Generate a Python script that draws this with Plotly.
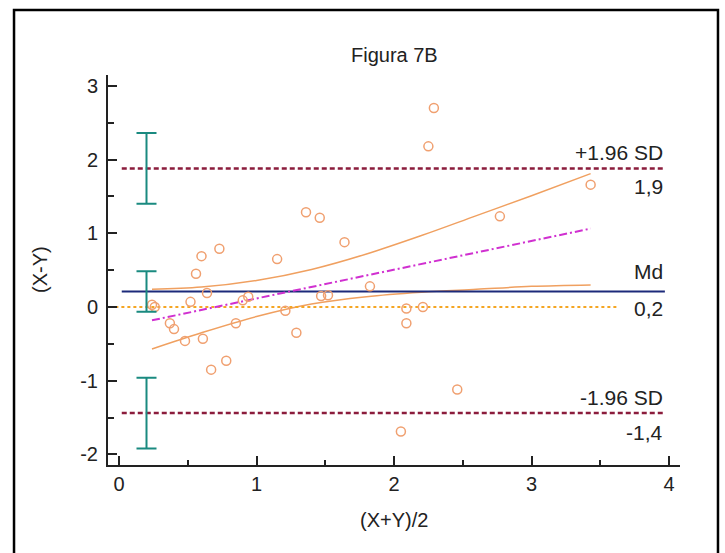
import plotly.graph_objects as go

# ---------------- data ----------------
mean_xy = [0.24, 0.26, 0.37, 0.40, 0.48, 0.52, 0.56, 0.60, 0.61, 0.64,
           0.67, 0.73, 0.78, 0.85, 0.90, 0.94, 1.15, 1.21, 1.29, 1.36,
           1.46, 1.47, 1.52, 1.64, 1.825, 2.05, 2.09, 2.09, 2.21, 2.25,
           2.29, 2.46, 2.77, 3.43]
diff_xy = [0.03, 0.00, -0.22, -0.30, -0.46, 0.07, 0.45, 0.69, -0.43, 0.19,
           -0.85, 0.79, -0.73, -0.22, 0.09, 0.14, 0.65, -0.05, -0.35, 1.285,
           1.21, 0.15, 0.16, 0.88, 0.28, -1.69, -0.02, -0.22, 0.00, 2.18,
           2.70, -1.12, 1.23, 1.66]

mean_diff = 0.21
upper_loa = 1.88
lower_loa = -1.44
mean_ci_half = 0.275
loa_ci_half = 0.48
ci_bar_x = 0.2

reg_intercept = -0.274
reg_slope = 0.39

band_x = [0.24, 0.6, 1.0, 1.4, 1.8, 2.2, 2.6, 3.0, 3.43]
band_upper = [0.24, 0.27, 0.36, 0.51, 0.72, 0.97, 1.24, 1.51, 1.81]
band_lower = [-0.57, -0.35, -0.13, 0.04, 0.14, 0.20, 0.24, 0.28, 0.30]

line_x_start = 0.02
line_x_end = 3.97
zero_x_start = -0.07
zero_x_end = 3.63

x_ticks = [0, 1, 2, 3, 4]
x_tick_labels = ["0", "1", "2", "3", "4"]
y_ticks = [-2, -1, 0, 1, 2, 3]
y_tick_labels = ["-2", "-1", "0", "1", "2", "3"]

labels = [  # (text, y value, pixel shift)
    ("+1.96 SD", upper_loa, 16),
    ("1,9", upper_loa, -18),
    ("Md", mean_diff, 20),
    ("0,2", mean_diff, -17),
    ("-1.96 SD", lower_loa, 16),
    ("-1,4", lower_loa, -19),
]

FONT = "Liberation Sans, Arial, sans-serif"
TXT = "#222222"
ORANGE = "#f0a070"

fig = go.Figure()

# confidence band of regression
for yy in (band_upper, band_lower):
    fig.add_trace(go.Scatter(x=band_x, y=yy, mode="lines",
                             line=dict(color="#f0a060", width=1.5, shape="spline"),
                             hoverinfo="skip"))

# zero line
fig.add_trace(go.Scatter(x=[zero_x_start, zero_x_end], y=[0, 0], mode="lines",
                         line=dict(color="#f5a623", width=2, dash="dot")))

# mean difference
fig.add_trace(go.Scatter(x=[line_x_start, line_x_end], y=[mean_diff, mean_diff], mode="lines",
                         line=dict(color="#1c2a7a", width=2)))

# limits of agreement
for v in (upper_loa, lower_loa):
    fig.add_trace(go.Scatter(x=[line_x_start, line_x_end], y=[v, v], mode="lines",
                             line=dict(color="#8b1c3c", width=2.5, dash="5px,3px")))

# regression line
rx = [min(mean_xy), max(mean_xy)]
ry = [reg_intercept + reg_slope * v for v in rx]
fig.add_trace(go.Scatter(x=rx, y=ry, mode="lines",
                         line=dict(color="#d030d0", width=2, dash="8px,3px,2px,3px")))

# data points
fig.add_trace(go.Scatter(x=mean_xy, y=diff_xy, mode="markers",
                         marker=dict(symbol="circle-open", size=9,
                                     line=dict(color=ORANGE, width=1.5), color=ORANGE)))

# confidence-interval bars
fig.add_trace(go.Scatter(x=[ci_bar_x] * 3, y=[upper_loa, mean_diff, lower_loa], mode="markers",
                         marker=dict(size=1, opacity=0),
                         error_y=dict(type="data", array=[loa_ci_half, mean_ci_half, loa_ci_half],
                                      color="#1a8a80", thickness=2, width=10)))

annotations = []
for text, v, shift in labels:
    annotations.append(dict(x=line_x_end, y=v, xref="x", yref="y", text=text,
                            showarrow=False, xanchor="right", yanchor="middle",
                            yshift=shift, font=dict(size=21, color=TXT, family=FONT)))
annotations.append(dict(x=0.5, y=1.0, xref="paper", yref="paper", text="Figura 7B",
                        showarrow=False, xanchor="center", yanchor="middle", yshift=20,
                        font=dict(size=20, color=TXT, family=FONT)))
annotations.append(dict(x=0.5, y=0, xref="paper", yref="paper", text="(X+Y)/2",
                        showarrow=False, xanchor="center", yanchor="middle", yshift=-55,
                        font=dict(size=20, color=TXT, family=FONT)))
annotations.append(dict(x=0, y=0.5, xref="paper", yref="paper", text="(X-Y)",
                        showarrow=False, xanchor="center", yanchor="middle", xshift=-68,
                        textangle=-90, font=dict(size=20, color=TXT, family=FONT)))

axis_common = dict(showgrid=False, zeroline=False, showline=True, linecolor="#222",
                   linewidth=2, ticks="inside", ticklen=9, tickwidth=1.5, tickcolor="#222",
                   tickfont=dict(size=20, color=TXT, family=FONT))

fig.update_layout(
    width=725, height=553,
    margin=dict(l=108, r=45, t=75, b=88),
    paper_bgcolor="white", plot_bgcolor="white",
    showlegend=False,
    xaxis=dict(range=[-0.08, 4.08], tickvals=x_ticks, ticktext=x_tick_labels,
               ticklabelstandoff=0,
               minor=dict(dtick=0.5, ticks="inside", ticklen=5, tickcolor="#222"),
               **axis_common),
    yaxis=dict(range=[-2.144, 3.148], tickvals=y_ticks, ticktext=y_tick_labels,
               ticklabelstandoff=4,
               minor=dict(dtick=0.5, ticks="inside", ticklen=6, tickcolor="#222"),
               **axis_common),
    annotations=annotations,
    shapes=[dict(type="rect", xref="paper", yref="paper",
                 x0=-0.1643, x1=1.0664, y0=-0.26, y1=1.1667,
                 line=dict(color="black", width=2.5), fillcolor="rgba(0,0,0,0)")],
)

fig.write_html("out.html", config={"displayModeBar": False},
               post_script="document.body.style.margin='0';document.body.style.overflow='hidden';")
